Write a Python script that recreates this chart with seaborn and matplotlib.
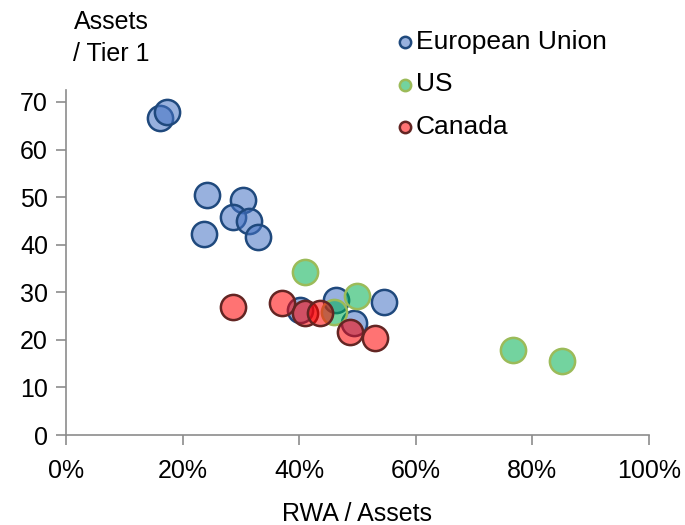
import numpy as np
import pandas as pd
import matplotlib
matplotlib.use('Agg')
import matplotlib.pyplot as plt
import matplotlib.colors as mcolors
import seaborn as sns

# RWA / Assets (%) and Assets / Tier 1
eu_x = [16.1, 17.3, 24.2, 30.4, 28.6, 31.4, 32.9, 23.7, 40.1, 46.3, 54.6, 49.4]
eu_y = [66.6, 67.9, 50.4, 49.4, 45.8, 45.0, 41.6, 42.2, 26.3, 28.4, 28.0, 23.5]
us_x = [41.0, 50.0, 46.0, 76.7, 85.2]
us_y = [34.2, 29.2, 25.9, 17.9, 15.5]
ca_x = [28.7, 37.1, 41.1, 43.6, 48.7, 53.1]
ca_y = [27.0, 27.7, 25.7, 25.6, 21.7, 20.4]

regions = ["European Union", "US", "Canada"]
fills = {"European Union": "#4472C4", "US": "#00B050", "Canada": "#FF0000"}
edges = {"European Union": "#1F497D", "US": "#9BBB59", "Canada": "#632523"}

df = pd.concat([
    pd.DataFrame({"rwa": eu_x, "lev": eu_y, "region": "European Union"}),
    pd.DataFrame({"rwa": us_x, "lev": us_y, "region": "US"}),
    pd.DataFrame({"rwa": ca_x, "lev": ca_y, "region": "Canada"}),
], ignore_index=True)
df["rwa"] = df["rwa"] / 100

sns.set_style("white")
plt.rcParams['font.family'] = ['Liberation Sans', 'DejaVu Sans']
plt.rcParams['text.color'] = 'black'
FS = 18

fig = plt.figure(figsize=(6.85, 5.25), dpi=100)
ax = fig.add_axes([0.0964, 0.1714, 0.8505, 0.657])

for r in regions:
    fc = mcolors.to_rgba(fills[r], 0.55)
    sns.scatterplot(data=df[df.region == r], x="rwa", y="lev", ax=ax,
                    facecolor=fc, edgecolor=edges[r], linewidth=1.8,
                    s=330, label=r, zorder=3)

ax.set_xlim(0, 1.0)
ax.set_ylim(0, 72.5)
ax.set_xticks(np.arange(0, 1.01, 0.2))
ax.set_xticklabels([f"{int(round(v*100))}%" for v in np.arange(0, 1.01, 0.2)])
ax.set_yticks(range(0, 71, 10))

for s in ["top", "right"]:
    ax.spines[s].set_visible(False)
for s in ["left", "bottom"]:
    ax.spines[s].set_color("#8c8c8c")
    ax.spines[s].set_linewidth(1.2)
ax.tick_params(axis="both", direction="out", length=7, width=1.2,
               color="#8c8c8c", labelsize=FS, labelcolor="black",
               bottom=True, left=True)
ax.tick_params(axis="x", pad=10)
ax.tick_params(axis="y", pad=6)

ax.set_xlabel("RWA / Assets", fontsize=FS, labelpad=14, color="black")
ax.set_ylabel("")
fig.text(0.163, 0.928, "Assets\n/ Tier 1", fontsize=FS, ha="center",
         va="center", linespacing=1.45)

leg = ax.legend(loc="upper left", bbox_to_anchor=(0.553, 0.963),
                bbox_transform=fig.transFigure, frameon=False, fontsize=19,
                markerscale=0.45, handletextpad=-0.2, labelspacing=0.7,
                borderaxespad=0.0, handlelength=1.2)

fig.savefig("out.png", dpi=100)
